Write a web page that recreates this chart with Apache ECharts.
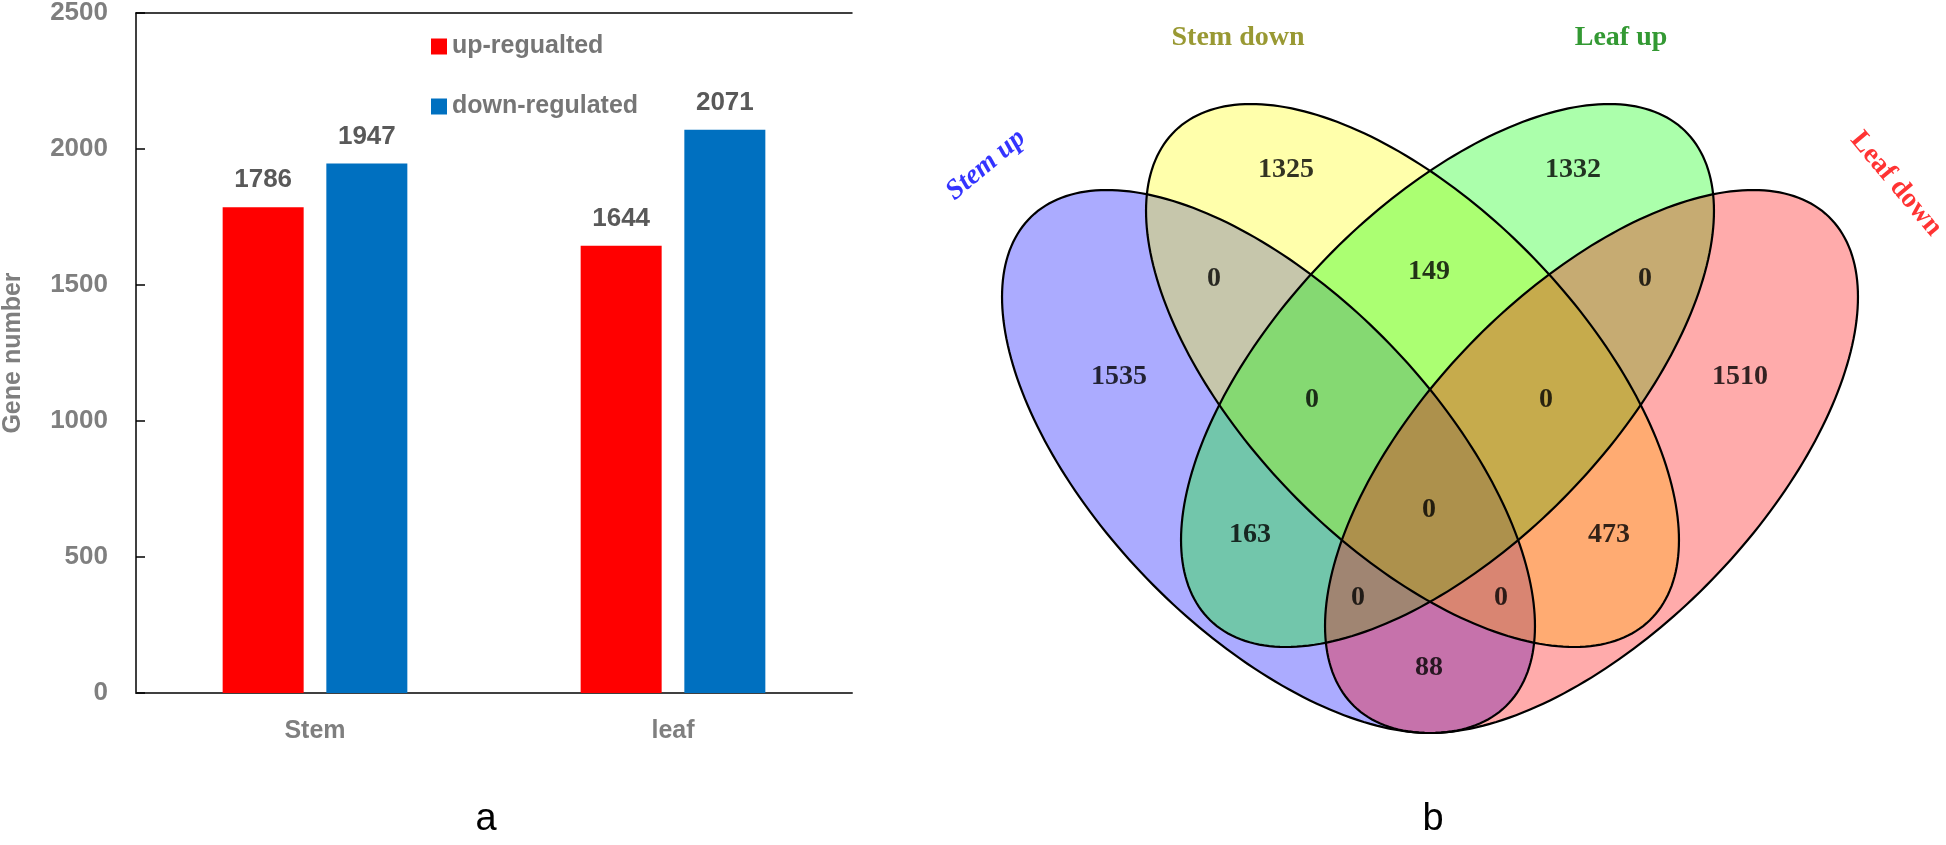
<!DOCTYPE html>
<html>
<head>
<meta charset="utf-8">
<script src="https://cdn.jsdelivr.net/npm/echarts@6/dist/echarts.min.js"></script>
<style>html,body{margin:0;padding:0;background:#fff;}#c{width:1946px;height:845px;}</style>
</head>
<body>
<div id="c"></div>
<script>
// ---- Bar chart data ----
const categories = ['Stem', 'leaf'];
const seriesNames = ['up-regualted', 'down-regulated'];
const upRegulated = [1786, 1644];
const downRegulated = [1947, 2071];
const yMin = 0, yMax = 2500, yInterval = 500;

// ---- Venn data ----
const vennSetNames = ['Stem up', 'Stem down', 'Leaf up', 'Leaf down'];
const vennRegions = [
  ['Stem down'],
  ['Leaf up'],
  ['Stem up', 'Stem down'],
  ['Stem down', 'Leaf up'],
  ['Leaf up', 'Leaf down'],
  ['Stem up'],
  ['Leaf down'],
  ['Stem up', 'Stem down', 'Leaf up'],
  ['Stem down', 'Leaf up', 'Leaf down'],
  ['Stem up', 'Leaf up'],
  ['Stem up', 'Stem down', 'Leaf up', 'Leaf down'],
  ['Stem down', 'Leaf down'],
  ['Stem up', 'Leaf up', 'Leaf down'],
  ['Stem up', 'Stem down', 'Leaf down'],
  ['Stem up', 'Leaf down']
];
const vennCounts = [1325, 1332, 0, 149, 0, 1535, 1510, 0, 0, 163, 0, 473, 0, 0, 88];

// ---- Venn layout (pixel-like coordinates of the hidden venn grid) ----
const vennShapes = [
  {cx: 1268.5, cy: 461.5, a: 340.9, b: 168.8, angle: 45.88, fill: 'rgba(0,0,255,0.33)'},
  {cx: 1412.5, cy: 375.5, a: 340.9, b: 168.8, angle: 45.88, fill: 'rgba(255,255,0,0.33)'},
  {cx: 1447.5, cy: 375.5, a: 340.9, b: 168.8, angle: -45.88, fill: 'rgba(0,255,0,0.33)'},
  {cx: 1591.5, cy: 461.5, a: 340.9, b: 168.8, angle: -45.88, fill: 'rgba(255,0,0,0.33)'}
];
const vennLabelPos = [
  [1286, 170], [1573, 170], [1214, 279], [1429, 272], [1645, 279],
  [1119, 377], [1740, 377], [1312, 400], [1546, 400], [1250, 535],
  [1429, 510], [1609, 535], [1358, 598], [1501, 598], [1429, 668]
];
const vennTitleLayout = [
  {pos: [986, 165], rotate: 40, color: '#0000ff', italic: true},
  {pos: [1238, 38], rotate: 0, color: '#808000', italic: false},
  {pos: [1621, 38], rotate: 0, color: '#008000', italic: false},
  {pos: [1896, 184], rotate: -50, color: '#ff0000', italic: false}
];

function ellipsePoints(g, api) {
  const pts = [];
  const phi = g.angle * Math.PI / 180;
  const n = 240;
  for (let i = 0; i < n; i++) {
    const t = i / n * 2 * Math.PI;
    const ex = g.a * Math.cos(t), ey = g.b * Math.sin(t);
    const x = g.cx + ex * Math.cos(phi) - ey * Math.sin(phi);
    const y = g.cy + ex * Math.sin(phi) + ey * Math.cos(phi);
    pts.push(api.coord([x, y]));
  }
  return pts;
}

const sansBold = {fontFamily: 'Liberation Sans, Arial, sans-serif', fontWeight: 'bold', fontSize: 25};
const serifBold = {fontFamily: 'Liberation Serif, Times New Roman, serif', fontWeight: 'bold'};

const chart = echarts.init(document.getElementById('c'), null, {renderer: 'canvas'});
chart.setOption({
  animation: false,
  backgroundColor: '#fff',
  grid: [
    {left: 123, top: 12, width: 729, bottom: 152, containLabel: false},
    {left: 880, top: 0, width: 1066, height: 845}
  ],
  legend: {
    data: seriesNames,
    orient: 'vertical',
    left: 426, top: 29,
    itemWidth: 16, itemHeight: 16, itemGap: 35,
    icon: 'rect',
    selectedMode: false,
    textStyle: Object.assign({color: '#767676', lineHeight: 25}, sansBold)
  },
  xAxis: [
    {
      type: 'category', gridIndex: 0, data: categories,
      axisLine: {lineStyle: {color: '#404040', width: 2}},
      axisTick: {inside: true, length: 9, lineStyle: {color: '#404040', width: 1.5}},
      axisLabel: Object.assign({color: '#7f7f7f', margin: 26}, sansBold)
    },
    {
      type: 'category', gridIndex: 0, position: 'top', data: categories,
      axisLine: {show: true, onZero: false, lineStyle: {color: '#000', width: 1.5}},
      axisTick: {show: false}, axisLabel: {show: false}
    },
    {type: 'value', gridIndex: 1, min: 880, max: 1946, show: false}
  ],
  yAxis: [
    {
      type: 'value', gridIndex: 0, min: yMin, max: yMax, interval: yInterval,
      name: 'Gene number', nameLocation: 'middle', nameGap: 110,
      nameTextStyle: Object.assign({color: '#7f7f7f'}, sansBold),
      axisLine: {show: true, lineStyle: {color: '#000', width: 1.5}},
      axisTick: {show: true, inside: true, length: 9, lineStyle: {color: '#000', width: 1.5}},
      splitLine: {show: false},
      axisLabel: Object.assign({color: '#7f7f7f', margin: 28, formatter: v => String(v)}, sansBold, {fontSize: 26})
    },
    {type: 'value', gridIndex: 1, min: 0, max: 845, inverse: true, show: false}
  ],
  series: [
    {
      name: seriesNames[0], type: 'bar', xAxisIndex: 0, yAxisIndex: 0,
      data: upRegulated, barWidth: 81, barGap: '28%',
      itemStyle: {color: '#ff0000'},
      label: Object.assign({show: true, position: 'top', distance: 14, color: '#595959'}, sansBold, {fontSize: 26})
    },
    {
      name: seriesNames[1], type: 'bar', xAxisIndex: 0, yAxisIndex: 0,
      data: downRegulated, barWidth: 81, barGap: '28%',
      itemStyle: {color: '#0070c0'},
      label: Object.assign({show: true, position: 'top', distance: 14, color: '#595959'}, sansBold, {fontSize: 26})
    },
    {
      name: 'vennFill', type: 'custom', xAxisIndex: 2, yAxisIndex: 1, silent: true,
      data: vennSetNames.map((n, i) => ({name: n, value: [vennShapes[i].cx, vennShapes[i].cy]})),
      renderItem: function (params, api) {
        const g = vennShapes[params.dataIndex];
        return {type: 'polygon', shape: {points: ellipsePoints(g, api)}, style: {fill: g.fill, stroke: null}};
      },
      z: 2
    },
    {
      name: 'vennLine', type: 'custom', xAxisIndex: 2, yAxisIndex: 1, silent: true,
      data: vennSetNames.map((n, i) => ({name: n, value: [vennShapes[i].cx, vennShapes[i].cy]})),
      renderItem: function (params, api) {
        const g = vennShapes[params.dataIndex];
        return {type: 'polygon', shape: {points: ellipsePoints(g, api)}, style: {fill: null, stroke: '#000', lineWidth: 2.2}};
      },
      z: 3
    },
    {
      name: 'vennCounts', type: 'scatter', xAxisIndex: 2, yAxisIndex: 1, silent: true,
      symbolSize: 0, z: 4,
      data: vennCounts.map((c, i) => ({name: vennRegions[i].join(' & '), value: [vennLabelPos[i][0], vennLabelPos[i][1], c]})),
      label: Object.assign({show: true, position: 'inside', color: '#000', fontSize: 28,
        formatter: p => String(vennCounts[p.dataIndex])}, serifBold)
    },
    {
      name: 'vennTitles', type: 'scatter', xAxisIndex: 2, yAxisIndex: 1, silent: true,
      symbolSize: 0, z: 4,
      data: vennSetNames.map((n, i) => ({
        name: n, value: vennTitleLayout[i].pos,
        label: {rotate: vennTitleLayout[i].rotate, color: vennTitleLayout[i].color,
          fontStyle: vennTitleLayout[i].italic ? 'italic' : 'normal'}
      })),
      label: Object.assign({show: true, position: 'inside', fontSize: 28,
        formatter: p => p.name}, serifBold)
    }
  ],
  graphic: [
    {type: 'text', x: 486, y: 820, style: {text: 'a', fill: '#000', font: '38px Liberation Sans, Arial, sans-serif', align: 'center', verticalAlign: 'middle'}},
    {type: 'text', x: 1433, y: 820, style: {text: 'b', fill: '#000', font: '38px Liberation Sans, Arial, sans-serif', align: 'center', verticalAlign: 'middle'}}
  ]
});
</script>
</body>
</html>
